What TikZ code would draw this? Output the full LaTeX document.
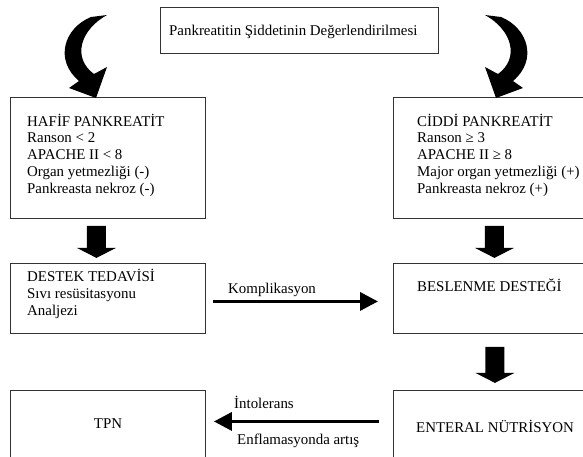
\documentclass[tikz,border=0pt]{standalone}
\usepackage{fontspec}
\setmainfont{Liberation Serif}
\usetikzlibrary{arrows.meta,calc}
\begin{document}
\begin{tikzpicture}[x=1pt,y=-1pt,
  box/.style={draw=black!80, line width=0.9pt, anchor=north west, inner sep=0pt},
  txt/.style={inner sep=0pt, font=\fontsize{14.9pt}{16.75pt}\selectfont},
  harrow/.style={line width=3.5pt, -{Triangle[length=18pt,width=18pt]}},
  pics/blockdown/.style={code={\fill (-9.5,0) -- (9.5,0) -- (9.5,#1) -- (19.5,#1) -- (0,#1+10) -- (-19.5,#1) -- (-9.5,#1) -- cycle;}},
  pics/curvearrow/.style={code={\fill (91,17) .. controls (64,28) and (54,60) .. (79,81) -- (69,88) -- (96,98) -- (107,67) -- (94,74) .. controls (72,58) and (80,30) .. (107,15) -- cycle;}}
]
\useasboundingbox (0,0) rectangle (583,456);
\clip (0,0) rectangle (583,456);

% boxes
\node[box, minimum width=278pt, minimum height=46pt] (top) at (160,7) {};
\node[box, minimum width=195pt, minimum height=121pt] (hafif) at (10,97) {};
\node[box, minimum width=195pt, minimum height=121pt] (ciddi) at (393,97) {};
\node[box, minimum width=195pt, minimum height=70pt] (destek) at (10,263) {};
\node[box, minimum width=195pt, minimum height=70pt] (beslenme) at (393,263) {};
\node[box, minimum width=195pt, minimum height=80pt] (tpn) at (10,390) {};
\node[box, minimum width=195pt, minimum height=80pt] (enteral) at (393,390) {};

% texts
\node[txt, anchor=base west] (toptext) at (169,35) {Pankreatitin Şiddetinin Değerlendirilmesi};
\node[txt, anchor=west, align=left] (hafiftext) at (27,155) {HAFİF PANKREATİT\\Ranson < 2\\APACHE II < 8\\Organ yetmezliği (-)\\Pankreasta nekroz (-)};
\node[txt, anchor=west, align=left] (ciddittext) at (417,155) {CİDDİ PANKREATİT\\Ranson ≥ 3\\APACHE II ≥ 8\\Major organ yetmezliği (+)\\Pankreasta nekroz (+)};
\node[txt, anchor=west, align=left] (destektext) at (27,294) {DESTEK TEDAVİSİ\\Sıvı resüsitasyonu\\Analjezi};
\node[txt, anchor=base west] (beslenmetext) at (417,291) {BESLENME DESTEĞİ};
\node[txt, anchor=base] (tpntext) at (108,428) {TPN};
\node[txt, anchor=base west] (enteraltext) at (416,432) {ENTERAL NÜTRİSYON};

% curved arrows
\pic at (0,0) {curvearrow};
\pic[xscale=-1] at (592,0) {curvearrow};

% block arrows
\pic at ($(hafif.south)+(-11.5,7)$) {blockdown=22};
\pic at ($(ciddi.south)+(3.5,7)$) {blockdown=22};
\pic at ($(beslenme.south)+(4,13)$) {blockdown=26};

% horizontal arrows
\coordinate (k1) at ($(destek.east)+(7,3)$);
\coordinate (k2) at ($(beslenme.west)+(-15,3)$);
\draw[harrow] (k1) -- (k2);
\node[txt, anchor=base west] (komp) at (228,293) {Komplikasyon};

\coordinate (e1) at ($(enteral.west)+(-14,-9)$);
\coordinate (e2) at ($(tpn.east)+(8,-9)$);
\draw[harrow] (e1) -- (e2);
\node[txt, anchor=base west] (intol) at (234,408) {İntolerans};
\node[txt, anchor=base west] (enfl) at (237,444) {Enflamasyonda artış};
\end{tikzpicture}
\end{document}
